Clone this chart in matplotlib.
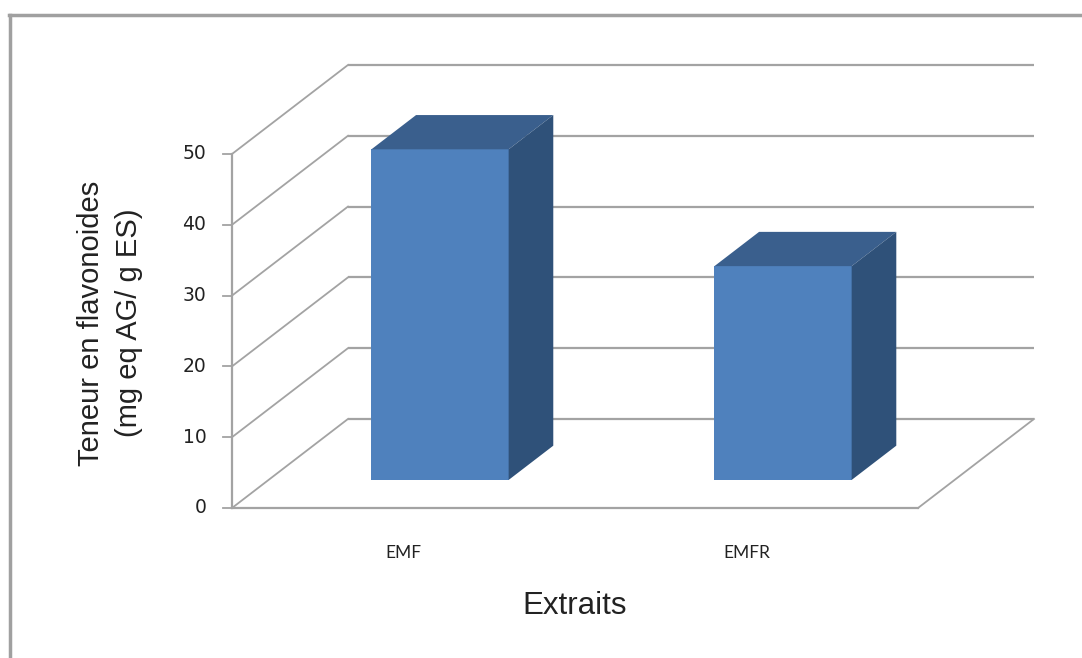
import matplotlib.pyplot as plt
from matplotlib.patches import Polygon
import matplotlib.lines as mlines

categories = ['EMF', 'EMFR']
values = [46.7, 30.2]
yticks = [0, 10, 20, 30, 40, 50]

# pseudo 3D geometry (category units / value units)
DX, DY = 0.338, 12.57      # full floor depth offset
D0, D1 = 0.315, 0.70       # bar front / back depth fraction
BAR_W = 0.40
GRID = '#a3a3a3'
FRONT, TOP, SIDE = '#4f81bd', '#3a5f8d', '#2f5179'

fig = plt.figure(figsize=(10.82, 6.58), dpi=100)
ax = fig.add_axes([0, 0, 1, 1])
ax.set_xlim(-0.6764, 2.478)
ax.set_ylim(-21.19, 71.75)
ax.axis('off')


def proj(x, y, d):
    return (x + d * DX, y + d * DY)


n = len(categories)

# back wall lines and left wall diagonals
for t in yticks:
    bx0, by = proj(0, t, 1)
    bx1, _ = proj(n, t, 1)
    ax.plot([bx0, bx1], [by, by], color=GRID, lw=1.6, solid_capstyle='butt')
    ax.plot([0, bx0], [t, by], color=GRID, lw=1.3)
    # tick marks
    ax.plot([-0.025, 0], [t, t], color=GRID, lw=1.3)
    ax.text(-0.075, t, str(t), ha='right', va='center', fontsize=13.5,
            family='DejaVu Sans', color='#222222')

# front axis
ax.plot([0, 0], [0, yticks[-1]], color=GRID, lw=1.6)
# floor
fx, fy = proj(n, 0, 1)
ax.plot([0, n], [0, 0], color=GRID, lw=1.6)
ax.plot([n, fx], [0, fy], color=GRID, lw=1.3)

# bars
for i, v in enumerate(values):
    x0 = i + 0.5 - BAR_W / 2
    x1 = x0 + BAR_W
    a = proj(x0, 0, D0)
    b = proj(x1, 0, D0)
    c = proj(x1, v, D0)
    d = proj(x0, v, D0)
    cb = proj(x1, v, D1)
    db = proj(x0, v, D1)
    bb = proj(x1, 0, D1)
    ax.add_patch(Polygon([a, b, c, d], closed=True, fc=FRONT, ec='none', zorder=3))
    ax.add_patch(Polygon([d, c, cb, db], closed=True, fc=TOP, ec='none', zorder=3))
    ax.add_patch(Polygon([b, bb, cb, c], closed=True, fc=SIDE, ec='none', zorder=3))
    ax.text(i + 0.5, -6.3, categories[i], ha='center', va='center',
            fontsize=12.5, family='Lato', color='#222222')

ax.text(n / 2, -13.8, 'Extraits', ha='center', va='center', fontsize=22.5,
        family='Liberation Sans', color='#222222')
ax.text(-0.356, 26.1, 'Teneur en flavonoides\n(mg eq AG/ g ES)', ha='center',
        va='center', rotation=90, fontsize=21, family='Liberation Sans',
        linespacing=1.45, color='#222222')

# outer frame
fig.add_artist(mlines.Line2D([9 / 1082, 1], [1 - 15 / 658, 1 - 15 / 658],
                             color='#a0a0a0', lw=2.5))
fig.add_artist(mlines.Line2D([10 / 1082, 10 / 1082], [0, 1 - 15 / 658],
                             color='#a0a0a0', lw=2.5))

fig.savefig('out.png', dpi=100)
